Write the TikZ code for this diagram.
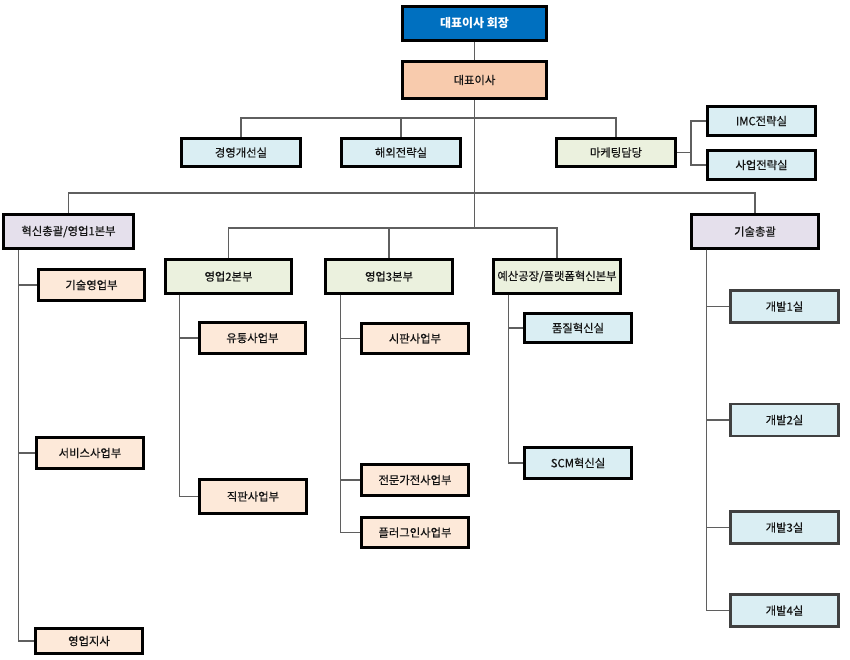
\documentclass[tikz,border=0pt]{standalone}
\usepackage{fontspec}
\setmainfont{Noto Sans CJK KR}
\newfontfamily\krfont{Noto Sans CJK KR}[FakeBold=0.5]
\usepackage{tikz}
\usetikzlibrary{positioning,calc}
\definecolor{orgBlue}  {RGB}{  0,112,192}
\definecolor{orgPeach} {RGB}{248,203,173}
\definecolor{orgPeachL}{RGB}{253,233,217}
\definecolor{orgSky}   {RGB}{218,238,243}
\definecolor{orgLime}  {RGB}{235,241,222}
\definecolor{orgLilac} {RGB}{229,224,236}
\definecolor{orgLine}  {RGB}{ 95, 95, 95}
\definecolor{orgInk}   {RGB}{ 20, 20, 20}

\begin{document}
\begin{tikzpicture}[
  x=0.75pt,y=-0.75pt,
  font=\krfont\fontsize{8.5}{9}\selectfont,
  box/.style={rectangle,draw=black,line width=2.2pt,inner sep=1pt,
              text=orgInk,align=center},
  chief/.style={box,fill=orgBlue,text=white,font=\fontsize{9}{9}\selectfont\bfseries,
                minimum width=108pt,minimum height=26pt},
  rep/.style={box,fill=orgPeach,minimum width=108pt,minimum height=28pt},
  staff/.style={box,fill=orgSky,minimum width=89pt,minimum height=21pt},
  mkt/.style={box,fill=orgLime,minimum width=89pt,minimum height=21pt},
  room/.style={box,fill=orgSky,minimum width=81pt,minimum height=22pt},
  div/.style={box,minimum width=95pt,minimum height=25pt},
  sub/.style={box,fill=orgPeachL,minimum width=80pt,minimum height=23pt},
  lab/.style={box,fill=orgSky,minimum width=80pt,minimum height=23pt},
  dev/.style={box,fill=orgSky,draw=black!75,minimum width=81pt,minimum height=24pt},
  link/.style={draw=orgLine,line width=0.8pt}
]
\useasboundingbox (0,0) rectangle (850,660);
\def\spine{12pt}

% --- top
\node[chief] (ceo) at (474.5,23.5) {대표이사 회장};
\node[rep]   (rep) at (474.5,80) {대표이사};

% --- staff row
\node[staff] (mgmt) at (241,152.5) {경영개선실};
\node[staff] (ovs)  at (401,152.5) {해외전략실};
\node[mkt]   (mkt)  at (616,152.5) {마케팅담당};
\node[room]  (imc)  at (761.5,121) {IMC전략실};
\node[room]  (bst)  at (761.5,165) {사업전략실};

% --- divisions
\node[div,fill=orgLilac,minimum width=97pt,minimum height=26pt] (inno) at (68.5,231.5) {혁신총괄/영업1본부};
\node[div,fill=orgLilac] (tech)  at (755,231.5) {기술총괄};
\node[div,fill=orgLime]  (sal2)  at (228.5,276.5) {영업2본부};
\node[div,fill=orgLime]  (sal3)  at (389,276.5) {영업3본부};
\node[div,fill=orgLime,inner sep=0pt] (plant) at (557,276.5) {예산공장/플랫폼혁신본부};

% --- units
\node[sub] (teS)  at (91.5,285)  {기술영업부};
\node[sub] (svc)  at (90,453)    {서비스사업부};
\node[sub,minimum height=19pt] (brch) at (89,641) {영업지사};
\node[sub] (dist) at (252.5,338) {유통사업부};
\node[sub,minimum height=26pt] (drct) at (253,496.5) {직판사업부};
\node[sub] (rtl)  at (415,338.5) {시판사업부};
\node[sub] (appl) at (415,480)   {전문가전사업부};
\node[sub] (plug) at (415,532.5) {플러그인사업부};
\node[lab,minimum height=22pt] (qual) at (578,328) {품질혁신실};
\node[lab] (scm)  at (578,463)   {SCM혁신실};
\node[dev] (dev1) at (784.5,306.5) {개발1실};
\node[dev] (dev2) at (784.5,420)   {개발2실};
\node[dev] (dev3) at (784.5,527.5) {개발3실};
\node[dev] (dev4) at (784.5,610.5) {개발4실};

% --- connectors
\coordinate (barA) at (474.5,118);
\coordinate (barB) at (474.5,193);
\coordinate (barC) at (474.5,228);
\coordinate (mktJ) at (691,152.5);
\draw[link] (ceo.south) -- (rep.north);
\draw[link] (rep.south) -- (barC);
\draw[link] (mgmt.north) |- (barA) -| (mkt.north);
\draw[link] (ovs.north) -- (ovs.north |- barA);
\draw[link] (inno.north) |- (barB) -| (tech.north);
\draw[link] (sal2.north) |- (barC) -| (plant.north);
\draw[link] (sal3.north) -- (sal3.north |- barC);
\draw[link] (mkt.east) -- (mktJ);
\draw[link] (imc.west) -| (mktJ) |- (bst.west);

\foreach \c in {teS,svc,brch}
  \draw[link] ([xshift=\spine]inno.south west) |- (\c.west);
\foreach \c in {dist,drct}
  \draw[link] ([xshift=\spine]sal2.south west) |- (\c.west);
\foreach \c in {rtl,appl,plug}
  \draw[link] ([xshift=\spine]sal3.south west) |- (\c.west);
\foreach \c in {qual,scm}
  \draw[link] ([xshift=\spine]plant.south west) |- (\c.west);
\foreach \c in {dev1,dev2,dev3,dev4}
  \draw[link] ([xshift=\spine]tech.south west) |- (\c.west);
\end{tikzpicture}
\end{document}
